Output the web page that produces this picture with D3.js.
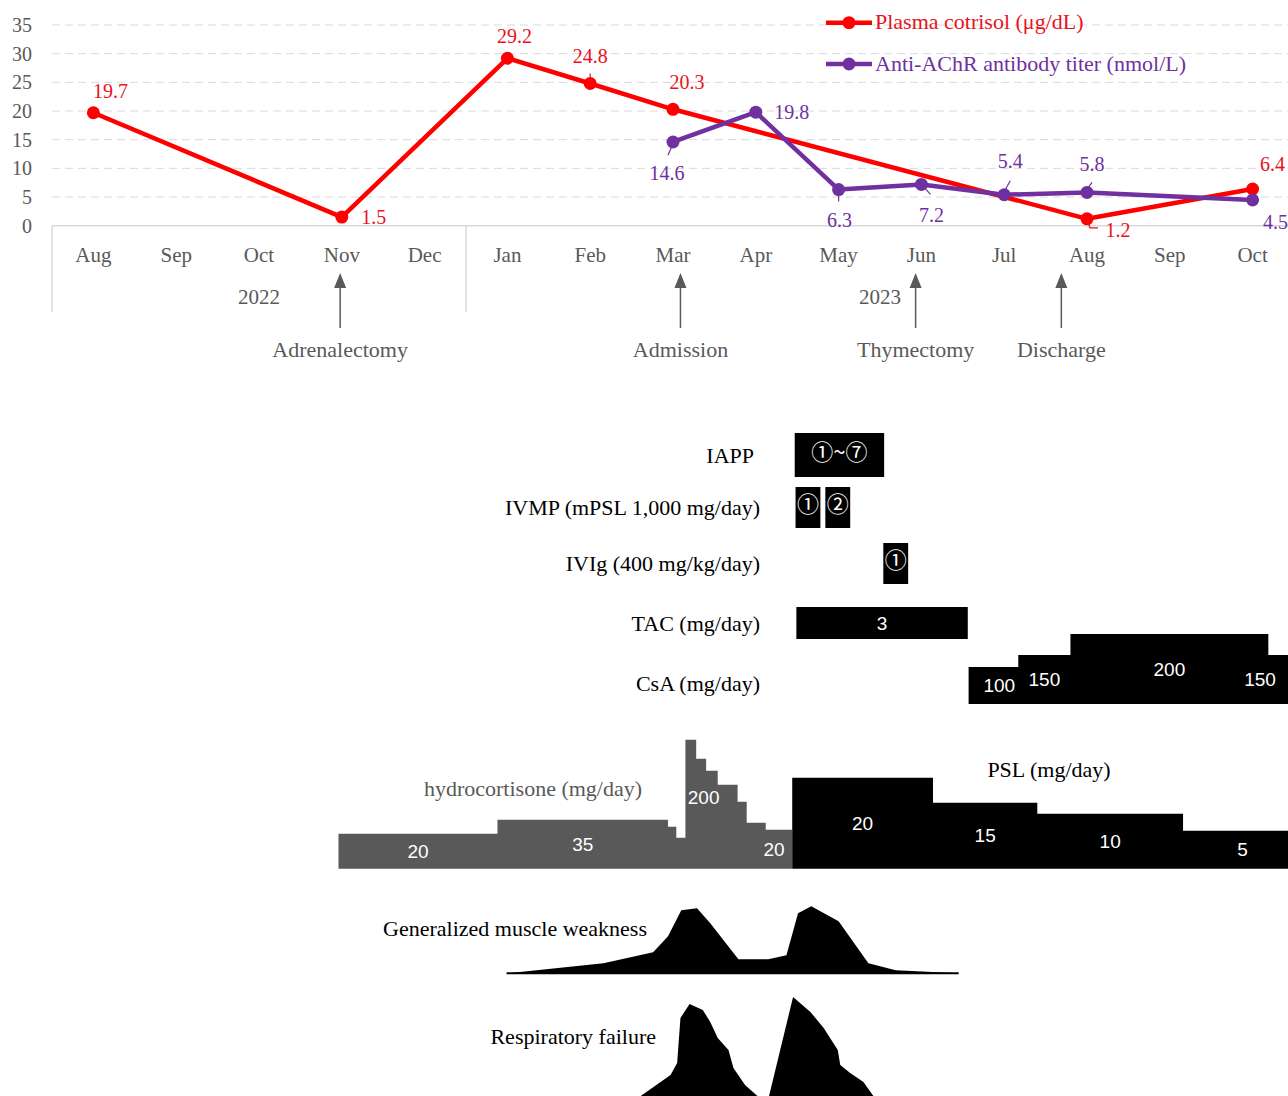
<!DOCTYPE html>
<html>
<head>
<meta charset="utf-8">
<script src="https://d3js.org/d3.v7.min.js"></script>
<style>
body{margin:0;background:#fff;}
svg{display:block;}
text{font-family:"Liberation Serif",serif;}
</style>
</head>
<body>
<div id="chart"></div>
<script>
// months on the time axis (Aug 2022 - Oct 2023)
var months = ["Aug","Sep","Oct","Nov","Dec","Jan","Feb","Mar","Apr","May","Jun","Jul","Aug","Sep","Oct"];
var years = ["2022","2023"];
var yearFirst = [0,5];   // first month index of each year
var yearLast = [4,14];   // last month index of each year
var yTicks = [0,5,10,15,20,25,30,35];

// lab values per month (null = not measured)
var cortisol = [19.7,null,null,1.5,null,29.2,24.8,20.3,null,null,null,null,1.2,null,6.4];
var achr = [null,null,null,null,null,null,null,14.6,19.8,6.3,7.2,5.4,5.8,null,4.5];

// clinical events (month index, fractional)
var events = ["Adrenalectomy","Admission","Thymectomy","Discharge"];
var eventAt = [2.98,7.09,9.93,11.69];

// treatments: start / end in month index, text in the box
var iappFrom = [8.47], iappTo = [9.55], iappText = ["①~⑦"];
var ivmpFrom = [8.48,8.84], ivmpTo = [8.78,9.14], ivmpText = ["①","②"];
var ivigFrom = [9.54], ivigTo = [9.84], ivigText = ["①"];
var tacFrom = [8.49], tacTo = [10.56], tacText = ["3"];

// step doses (schematic level = drawn height)
var csaStart = [10.57,11.17,11.80,14.19], csaEnd = 14.6;
var csaLevel = [37,49,70,49];
var csaDose = ["100","150","200","150"];

var hydroStart = [2.96,4.88,6.94,7.04,7.15,7.28,7.40,7.54,7.78,7.89,8.12], hydroEnd = 8.44;
var hydroLevel = [35,49,42,31,129,110,98,84,67,46,39];
var hydroDose = ["20","35",null,null,"200",null,null,null,null,null,"20"];

var pslStart = [8.44,10.14,11.40,13.16], pslEnd = 14.6;
var pslLevel = [91,66,55,38];
var pslDose = ["20","15","10","5"];

// symptom severity curves
var weakAt = [4.99,6.16,6.76,6.94,7.10,7.29,7.45,7.79,8.15,8.37,8.51,8.67,9.00,9.18,9.36,9.69,10.45];
var weakLevel = [0,10,21,37,63,65,50,14,14,18,60,67,52,31,10,3,0];
var respAt = [6.52,6.61,6.97,7.05,7.09,7.20,7.36,7.45,7.54,7.67,7.73,7.87,8.02,8.06,8.15,8.16,8.45,8.66,8.82,8.99,9.02,9.14,9.30,9.42,9.47];
var respLevel = [0,4,25,37,82,96,90,78,62,50,32,15,4,0,0,4,103,88,72,50,35,27,18,4,0];

function init(){
    var w = 1288; //width of the svg
    var h = 1096; //height of the svg
    var grey = "#595959", red = "#ff0000", redText = "#e8121c", purple = "#7030a0";

    var svg = d3.select("#chart")
                .append("svg")
                .attr("width",w)
                .attr("height",h);

    var x = d3.scaleBand() //one band per month
              .domain(d3.range(months.length))
              .range([52,1294]);
    var cx = function(i){ return x(i) + x.bandwidth()/2; };
    var t = d3.scaleLinear() //fractional month -> px
              .domain([0,months.length-1])
              .range([cx(0),cx(months.length-1)]);
    var y = d3.scaleLinear()
              .domain([0,35])
              .range([225.7,25]);
    var lv = d3.scaleLinear().domain([0,100]).range([0,100]); //schematic level -> px

    // gridlines
    svg.append("g").selectAll("line")
        .data(yTicks.filter(function(d){ return d > 0; }))
        .enter()
        .append("line")
        .attr("x1",52).attr("x2",w)
        .attr("y1",function(d){ return y(d); })
        .attr("y2",function(d){ return y(d); })
        .attr("stroke","#d9d9d9")
        .attr("stroke-width",1)
        .attr("stroke-dasharray","8,5");

    // y axis
    var ya = svg.append("g")
        .attr("transform","translate(32,0)")
        .call(d3.axisLeft(y).tickValues(yTicks).tickSize(0).tickPadding(0));
    ya.select(".domain").remove();
    ya.selectAll("text").attr("fill",grey).style("font-size","20px").style("font-family","Liberation Serif");

    // x axis
    var xa = svg.append("g")
        .attr("transform","translate(0,"+y(0)+")")
        .call(d3.axisBottom(x).tickFormat(function(i){ return months[i]; }).tickSize(0).tickPadding(21));
    xa.select(".domain").remove();
    xa.selectAll("text").attr("fill",grey).style("font-size","21px").style("font-family","Liberation Serif");
    svg.append("line")
        .attr("x1",52).attr("x2",w).attr("y1",y(0)).attr("y2",y(0))
        .attr("stroke","#d9d9d9").attr("stroke-width",1.5);

    // year groups
    svg.append("g").selectAll("line")
        .data(yearFirst)
        .enter()
        .append("line")
        .attr("x1",function(d){ return x(d); })
        .attr("x2",function(d){ return x(d); })
        .attr("y1",y(0)).attr("y2",312)
        .attr("stroke","#d9d9d9").attr("stroke-width",1.5);
    svg.append("g").selectAll("text")
        .data(years)
        .enter()
        .append("text")
        .attr("x",function(d,i){ return (cx(yearFirst[i]) + cx(yearLast[i]))/2; })
        .attr("y",297).attr("dy","0.35em")
        .attr("text-anchor","middle")
        .attr("fill",grey).style("font-size","21px")
        .text(function(d){ return d; });

    // events with arrows
    var ev = svg.append("g").selectAll("g")
        .data(events)
        .enter()
        .append("g")
        .attr("transform",function(d,i){ return "translate("+t(eventAt[i])+",0)"; });
    ev.append("line").attr("x1",0).attr("x2",0).attr("y1",328).attr("y2",286)
        .attr("stroke",grey).attr("stroke-width",1.5);
    ev.append("path").attr("d","M0,273L-6,288L6,288Z").attr("fill",grey);
    ev.append("text").attr("y",349).attr("dy","0.35em").attr("text-anchor","middle")
        .attr("fill",grey).style("font-size","22px")
        .text(function(d){ return d; });

    // lab series
    function drawSeries(vals, colour, textColour, labelPos, leaders){
        var pts = [];
        vals.forEach(function(v,i){ if(v != null) pts.push({i:i, v:v}); });
        var line = d3.line()
            .x(function(d){ return cx(d.i); })
            .y(function(d){ return y(d.v); });
        var g = svg.append("g");
        g.append("path").datum(pts)
            .attr("d",line)
            .attr("fill","none")
            .attr("stroke",colour)
            .attr("stroke-width",4.5)
            .attr("stroke-linejoin","round");
        g.selectAll("circle").data(pts).enter().append("circle")
            .attr("cx",function(d){ return cx(d.i); })
            .attr("cy",function(d){ return y(d.v); })
            .attr("r",6.5)
            .attr("fill",colour);
        g.selectAll("path.leader").data(pts.filter(function(d){ return leaders[d.i]; }))
            .enter().append("path").attr("class","leader")
            .attr("d",function(d){
                return d3.line()(leaders[d.i].map(function(p){ return [cx(d.i)+p[0], y(d.v)+p[1]]; }));
            })
            .attr("fill","none").attr("stroke",textColour).attr("stroke-width",1.2);
        g.selectAll("text").data(pts).enter().append("text")
            .attr("x",function(d){ return cx(d.i) + labelPos[d.i][0]; })
            .attr("y",function(d){ return y(d.v) + labelPos[d.i][1]; })
            .attr("dy","0.35em")
            .attr("text-anchor","middle")
            .attr("fill",textColour)
            .style("font-size","20px")
            .text(function(d){ return d.v; });
    }
    drawSeries(cortisol, red, redText,
        {0:[17,-22],3:[32,0],5:[7,-22],6:[0,-27],7:[14,-27],12:[31,11],14:[20,-25]},
        {6:[[0,-10],[0,-2]],12:[[0,1],[3,9],[11,9]]});
    drawSeries(achr, purple, purple,
        {7:[-6,31],8:[36,0],9:[1,30],10:[10,31],11:[6,-34],12:[5,-28],14:[23,22]},
        {7:[[0,2],[-5,13]],9:[[0,2],[0,12]],10:[[2,2],[9,10]],11:[[0,-3],[6,-14]],12:[[0,-3],[5,-10]]});

    // legend
    var legend = svg.append("g").selectAll("g")
        .data([["Plasma cotrisol (μg/dL)",red,redText,22.7],["Anti-AChR antibody titer (nmol/L)",purple,purple,64]])
        .enter().append("g")
        .attr("transform",function(d){ return "translate(826,"+d[3]+")"; });
    legend.append("line").attr("x1",0).attr("x2",46)
        .attr("stroke",function(d){ return d[1]; }).attr("stroke-width",4.5);
    legend.append("circle").attr("cx",23).attr("r",6.5).attr("fill",function(d){ return d[1]; });
    legend.append("text").attr("x",49).attr("dy","0.3em")
        .attr("fill",function(d){ return d[2]; })
        .style("font-size","22px")
        .text(function(d){ return d[0]; });

    // treatment rows
    var rows = [
        {name:"IAPP", from:iappFrom, to:iappTo, text:iappText, y0:433, h:44, lx:754},
        {name:"IVMP (mPSL 1,000 mg/day)", from:ivmpFrom, to:ivmpTo, text:ivmpText, y0:487, h:41, lx:760},
        {name:"IVIg (400 mg/kg/day)", from:ivigFrom, to:ivigTo, text:ivigText, y0:543, h:41, lx:760},
        {name:"TAC (mg/day)", from:tacFrom, to:tacTo, text:tacText, y0:607, h:32, lx:760}
    ];
    rows.forEach(function(r){
        var plain = r.text[0] == "3"; //number, not circled
        var g = svg.append("g");
        g.append("text").attr("x",r.lx).attr("y",r.y0 + r.h/2).attr("dy","0.35em")
            .attr("text-anchor","end").attr("fill","#000").style("font-size","22px")
            .text(r.name);
        g.selectAll("rect").data(r.from).enter().append("rect")
            .attr("x",function(d){ return t(d); })
            .attr("y",r.y0)
            .attr("width",function(d,i){ return t(r.to[i]) - t(d); })
            .attr("height",r.h)
            .attr("fill","#000");
        g.selectAll("text.v").data(r.from).enter().append("text").attr("class","v")
            .attr("x",function(d,i){ return (t(d) + t(r.to[i]))/2; })
            .attr("y",r.y0 + r.h/2 - (plain ? 0 : 3))
            .attr("dy","0.35em")
            .attr("text-anchor","middle")
            .attr("fill","#fff")
            .style("font-family",plain ? "Liberation Sans" : "Noto Sans CJK JP")
            .style("font-size",plain ? "19px" : "22px")
            .text(function(d,i){ return r.text[i]; });
    });
    svg.append("text").attr("x",760).attr("y",683).attr("dy","0.35em")
        .attr("text-anchor","end").style("font-size","22px").text("CsA (mg/day)");

    // step areas for doses
    function steps(start, end, level, base, colour, dose, labelAt){
        var pts = start.map(function(s,i){ return {m:s, l:level[i]}; });
        pts.push({m:end, l:level[level.length-1]});
        var area = d3.area()
            .x(function(d){ return t(d.m); })
            .y0(base)
            .y1(function(d){ return base - lv(d.l); })
            .curve(d3.curveStepAfter);
        svg.append("path").datum(pts).attr("d",area).attr("fill",colour);

        var g = svg.append("g");
        dose.forEach(function(d,i){
            if(d == null) return;
            var e = i+1 < start.length ? start[i+1] : end;
            var mx = (start[i]+e)/2, ml = level[i];
            if(labelAt && labelAt[i]){ mx = labelAt[i][0]; ml = labelAt[i][1]; }
            g.append("text")
                .attr("x",t(mx))
                .attr("y",base - lv(ml)/2)
                .attr("dy","0.35em")
                .attr("text-anchor","middle")
                .attr("fill","#fff")
                .style("font-family","Liberation Sans")
                .style("font-size","19px")
                .text(d);
        });
    }
    steps(csaStart, csaEnd, csaLevel, 704, "#000", csaDose, {0:[10.94,37],3:[14.09,49]});
    steps(hydroStart, hydroEnd, hydroLevel, 868.7, grey, hydroDose, {4:[7.37,142],10:[8.22,39]});
    steps(pslStart, pslEnd, pslLevel, 868.7, "#000", pslDose, null);

    svg.append("text").attr("x",533).attr("y",788).attr("dy","0.35em")
        .attr("text-anchor","middle").attr("fill",grey).style("font-size","22px")
        .text("hydrocortisone (mg/day)");
    svg.append("text").attr("x",1049).attr("y",769).attr("dy","0.35em")
        .attr("text-anchor","middle").attr("fill","#000").style("font-size","22px")
        .text("PSL (mg/day)");

    // symptom curves
    function symptom(at, level, base){
        var area = d3.area()
            .x(function(d,i){ return t(at[i]); })
            .y0(base)
            .y1(function(d){ return base - lv(d); });
        svg.append("path").datum(level).attr("d",area).attr("fill","#000");
    }
    symptom(weakAt, weakLevel, 973.3);
    svg.append("line").attr("x1",t(weakAt[0])).attr("x2",t(weakAt[weakAt.length-1]))
        .attr("y1",973.3).attr("y2",973.3).attr("stroke","#000").attr("stroke-width",2);
    svg.append("text").attr("x",647).attr("y",928).attr("dy","0.35em")
        .attr("text-anchor","end").style("font-size","22px").text("Generalized muscle weakness");
    symptom(respAt, respLevel, 1100);
    svg.append("text").attr("x",656).attr("y",1036).attr("dy","0.35em")
        .attr("text-anchor","end").style("font-size","22px").text("Respiratory failure");
}
window.onload = init;
</script>
</body>
</html>
